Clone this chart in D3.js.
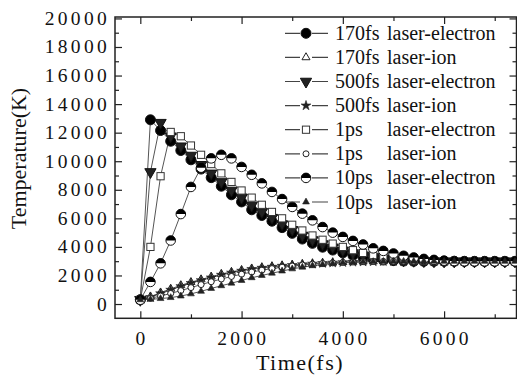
<!DOCTYPE html>
<html><head><meta charset="utf-8">
<script src="https://cdn.jsdelivr.net/npm/d3@7"></script>
<style>
html,body{margin:0;padding:0;background:#fff;}
svg{display:block;}
text{font-family:"Liberation Serif","Times New Roman",serif;fill:#111;}
</style></head>
<body>
<svg id="chart" width="517" height="378"></svg>
<script>
// ---- data ----
const times = [0,200,400,600,800,1000,1200,1400,1600,1800,2000,2200,2400,2600,2800,3000,3200,3400,3600,3800,4000,4200,4400,4600,4800,5000,5200,5400,5600,5800,6000,6200,6400,6600,6800,7000,7200,7400];

const e170 = [300,12900,12150,11400,10750,10100,9450,8850,8250,7650,7150,6600,6200,5800,5350,4950,4550,4250,3980,3780,3580,3400,3260,3150,3080,3040,3010,2995,2990,2990,2990,2990,2990,2990,2990,2990,2990,2990];
const i170 = [300,520,800,1060,1310,1530,1720,1910,2100,2240,2370,2480,2560,2630,2690,2740,2790,2830,2870,2900,2930,2950,2965,2975,2985,2990,2990,2990,2990,2990,2990,2990,2990,2990,2990,2990,2990,2990];
const e500 = [300,9250,12700,11750,11050,10400,9750,9150,8550,7950,7450,6900,6450,6050,5600,5200,4800,4480,4200,3970,3760,3570,3420,3300,3200,3120,3070,3035,3010,3000,2990,2990,2990,2990,2990,2990,2990,2990];
const i500 = [300,480,740,990,1240,1460,1660,1850,2040,2190,2320,2440,2530,2600,2670,2720,2770,2820,2860,2890,2920,2945,2960,2975,2985,2990,2990,2990,2990,2990,2990,2990,2990,2990,2990,2990,2990,2990];
const e1ps = [300,4000,8950,12050,11750,11100,10450,9800,9150,8550,7950,7450,6950,6450,6000,5550,5150,4800,4500,4230,4000,3770,3580,3420,3300,3200,3120,3060,3020,3000,2990,2990,2990,2990,2990,2990,2990,2990];
const i1ps = [300,400,560,740,940,1150,1360,1560,1750,1930,2090,2240,2370,2480,2580,2660,2730,2790,2840,2880,2910,2940,2960,2975,2985,2990,2990,2990,2990,2990,2990,2990,2990,2990,2990,2990,2990,2990];
const e10ps = [300,1550,2850,4450,6300,8200,9550,10200,10450,10200,9600,9050,8450,7850,7350,6800,6330,5860,5390,5000,4700,4420,4170,3900,3720,3540,3380,3260,3160,3090,3040,3010,2995,2990,2990,2990,2990,2990];
const i10ps = [300,330,380,450,560,710,890,1090,1280,1460,1650,1840,2000,2160,2310,2460,2580,2680,2760,2830,2880,2920,2950,2970,2985,2990,2990,2990,2990,2990,2990,2990,2990,2990,2990,2990,2990,2990];

const seriesNames = ["170fs laser-electron","170fs laser-ion","500fs laser-electron","500fs laser-ion","1ps laser-electron","1ps laser-ion","10ps laser-electron","10ps laser-ion"];
const legendPrefix = ["170fs","170fs","500fs","500fs","1ps","1ps","10ps","10ps"];
const legendSuffix = ["laser-electron","laser-ion","laser-electron","laser-ion","laser-electron","laser-ion","laser-electron","laser-ion"];
const seriesValues = [e170,i170,e500,i500,e1ps,i1ps,e10ps,i10ps];
const markerKinds = ["dot","triUpOpen","triDown","star","square","circleSmall","half","triUpSmall"];

const yTicks = [0,2000,4000,6000,8000,10000,12000,14000,16000,18000,20000];
const xTicks = [0,2000,4000,6000];

// ---- layout ----
const svg = d3.select("#chart");
const x = d3.scaleLinear().domain([-500,7430]).range([115,516.5]);
const y = d3.scaleLinear().domain([-1000,20100]).range([318.3,17]);
const L = 115, R = 516.5, T = 17, B = 318.3;

svg.append("rect").attr("x",L).attr("y",T).attr("width",R-L).attr("height",B-T)
  .attr("fill","none").attr("stroke","#222").attr("stroke-width",1.5);

const yMinor = [1000,3000,5000,7000,9000,11000,13000,15000,17000,19000];
const xMinor = [1000,3000,5000,7000];
function styleTicks(g){ g.select(".domain").remove(); g.selectAll("line").attr("stroke","#222").attr("stroke-width",1.2); }
function ticksY(xpos, dir){
  const mk = ()=> dir>0? d3.axisRight(y):d3.axisLeft(y);
  svg.append("g").attr("transform",`translate(${xpos},0)`)
    .call(mk().tickValues(yTicks).tickFormat("").tickSizeOuter(0).tickSizeInner(7)).call(styleTicks);
  svg.append("g").attr("transform",`translate(${xpos},0)`)
    .call(mk().tickValues(yMinor).tickFormat("").tickSizeOuter(0).tickSizeInner(4)).call(styleTicks);
}
function ticksX(ypos, dir){
  const mk = ()=> dir>0? d3.axisBottom(x):d3.axisTop(x);
  svg.append("g").attr("transform",`translate(0,${ypos})`)
    .call(mk().tickValues(xTicks).tickFormat("").tickSizeOuter(0).tickSizeInner(7)).call(styleTicks);
  svg.append("g").attr("transform",`translate(0,${ypos})`)
    .call(mk().tickValues(xMinor).tickFormat("").tickSizeOuter(0).tickSizeInner(4)).call(styleTicks);
}
ticksY(L, 1); ticksY(R, -1); ticksX(B, -1); ticksX(T, 1);

svg.append("g").selectAll("text").data(yTicks).join("text")
  .attr("x",110).attr("y",d=>y(d)+6.5).attr("text-anchor","end")
  .style("font-size","19.5px").style("letter-spacing","3.3px").text(d=>d);
svg.append("g").selectAll("text").data(xTicks).join("text")
  .attr("x",d=>x(d)+1.7).attr("y",345).attr("text-anchor","middle")
  .style("font-size","19.5px").style("letter-spacing","3.3px").text(d=>d);

svg.append("text").attr("x",300).attr("y",370).attr("text-anchor","middle")
  .style("font-size","22px").style("letter-spacing","1.5px").text("Time(fs)");
svg.append("text").attr("transform","translate(26,158.5) rotate(-90)").attr("text-anchor","middle")
  .style("font-size","22px").text("Temperature(K)");

function drawMarker(g, kind){
  const s = "#111";
  switch(kind){
    case "dot": g.append("circle").attr("r",5).attr("fill","#000").attr("stroke",s); break;
    case "triUpOpen": g.append("path").attr("d",d3.symbol(d3.symbolTriangle,28)()).attr("fill","#fff").attr("stroke","#222").attr("stroke-width",1); break;
    case "triDown": g.append("path").attr("d",d3.symbol(d3.symbolTriangle,55)()).attr("transform","rotate(180)").attr("fill","#222").attr("stroke",s); break;
    case "star": g.append("path").attr("d",d3.symbol(d3.symbolStar,30)()).attr("fill","#222").attr("stroke","#222").attr("stroke-width",0.6); break;
    case "square": g.append("rect").attr("x",-3.6).attr("y",-3.6).attr("width",7.2).attr("height",7.2).attr("fill","#fff").attr("stroke","#333").attr("stroke-width",1); break;
    case "circleSmall": g.append("circle").attr("r",3).attr("fill","#fff").attr("stroke","#222").attr("stroke-width",1); break;
    case "half":
      g.append("circle").attr("r",4.8).attr("fill","#fff").attr("stroke",s).attr("stroke-width",1);
      g.append("path").attr("d","M-4.8,0 A4.8,4.8 0 0 1 4.8,0 Z").attr("fill","#000");
      break;
    case "triUpSmall": g.append("path").attr("d",d3.symbol(d3.symbolTriangle,20)()).attr("fill","#222").attr("stroke","#222").attr("stroke-width",0.6); break;
  }
}

const line = d3.line().x(d=>x(d[0])).y(d=>y(d[1]));
const plot = svg.append("g");
seriesValues.forEach((vals)=>{
  const pts = times.map((t,j)=>[t, vals[j]]);
  plot.append("path").datum(pts).attr("d",line).attr("fill","none")
    .attr("stroke","#555").attr("stroke-width",1);
});
seriesValues.forEach((vals,i)=>{
  times.forEach((t,j)=>{
    const g = plot.append("g").attr("transform",`translate(${x(t)},${y(vals[j])})`);
    drawMarker(g, markerKinds[i]);
  });
});

const leg = svg.append("g");
seriesNames.forEach((name,i)=>{
  const yy = 33.3 + i*24.1;
  leg.append("line").attr("x1",285).attr("x2",328).attr("y1",yy).attr("y2",yy).attr("stroke","#444").attr("stroke-width",1.2);
  const g = leg.append("g").attr("transform",`translate(306,${yy})`);
  g.append("rect").attr("x",-6).attr("y",-6).attr("width",12).attr("height",12).attr("fill","#fff");
  drawMarker(g, markerKinds[i]);
  leg.append("text").attr("x",335).attr("y",yy+6.5).style("font-size","20px").text(legendPrefix[i]);
  leg.append("text").attr("x",387).attr("y",yy+6.5).style("font-size","20px").text(legendSuffix[i]);
});
</script>
</body></html>
